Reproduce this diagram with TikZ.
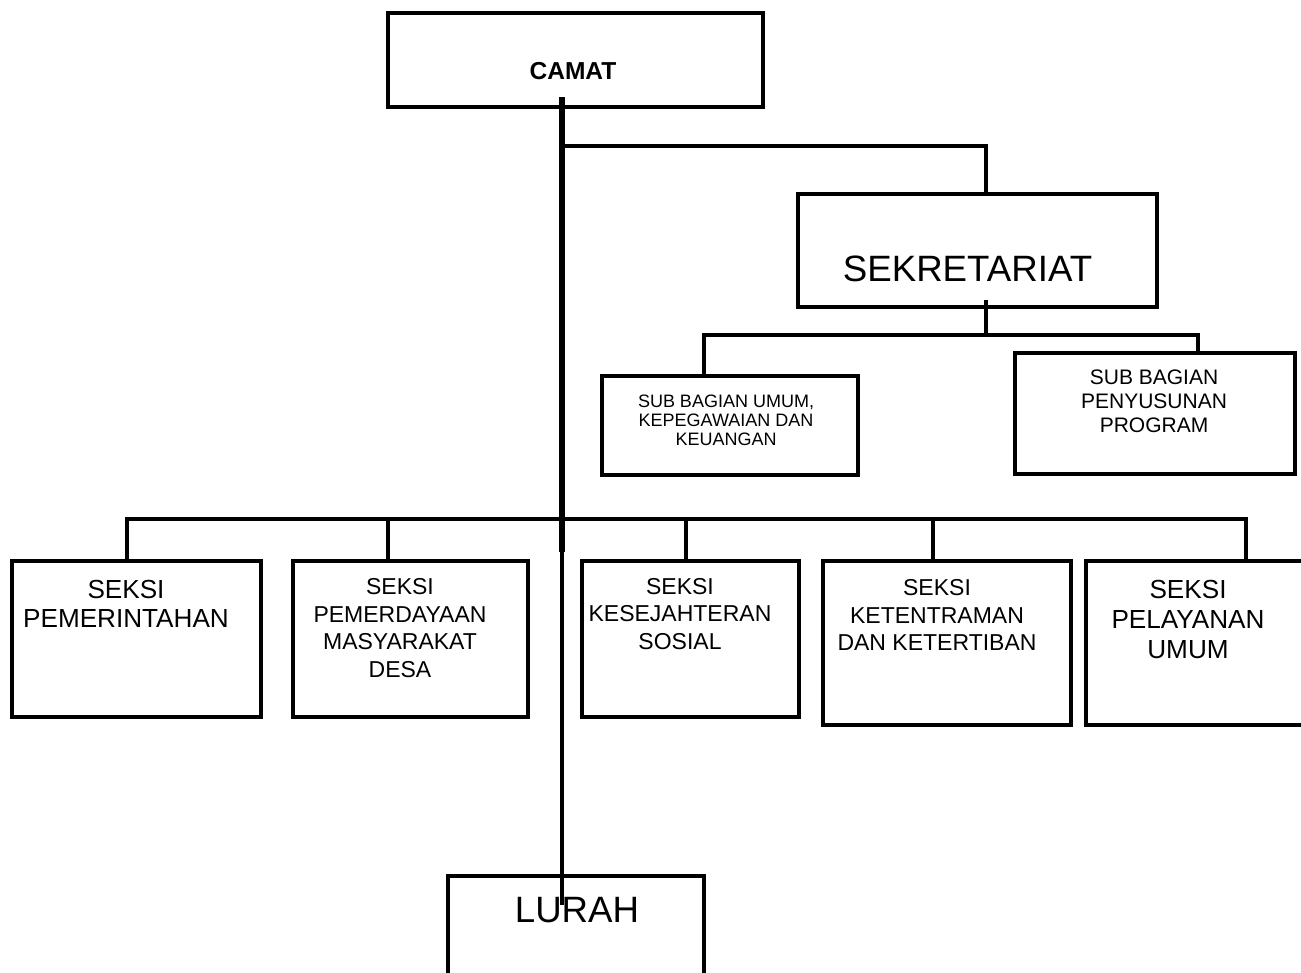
\documentclass[tikz,border=0pt]{standalone}
\usepackage{fontspec}
\setmainfont{Liberation Sans}
\usetikzlibrary{calc}

\begin{document}
\begin{tikzpicture}[x=0.75pt,y=-0.75pt,
  box/.style 2 args={draw,line width=2.8pt,inner sep=0pt,
    minimum width=#1*0.75pt,minimum height=#2*0.75pt},
  wire/.style={line width=3.6pt},
  thinwire/.style={line width=2.3pt},
  txt/.style={align=center,inner sep=0pt},
  head/.style={txt,font=\fontsize{18.4}{22}\selectfont\bfseries},
  big/.style={txt,font=\fontsize{27.5}{33}\selectfont},
  subsmall/.style={txt,font=\fontsize{13.5}{14.25}\selectfont},
  sub/.style={txt,font=\fontsize{15.75}{18}\selectfont},
  seksi/.style={txt,font=\fontsize{17.25}{20.6}\selectfont},
  seksibig/.style={txt,font=\fontsize{19.6}{22.5}\selectfont}]
\useasboundingbox (0,0) rectangle (1301,972);

% boxes
\node[box={375}{94}] (camat) at (575.5,60) {};
\node[box={359}{113}] (sekre) at (977.5,250.5) {};
\node[box={256}{99}] (subumum) at (730,425.5) {};
\node[box={280}{121}] (subprog) at (1155,413.5) {};
\node[box={249}{156}] (seksiA) at (136.5,639) {};
\node[box={235}{156}] (seksiB) at (410.5,639) {};
\node[box={217}{156}] (seksiC) at (690.5,639) {};
\node[box={248}{164}] (seksiD) at (947,643) {};
\node[box={224}{164}] (seksiE) at (1198,643) {};
\node[box={256}{124}] (lurah) at (576,938) {};

% texts
\node[head] (camat-t) at (573,71.5) {CAMAT};
\node[big] (sekre-t) at (967.5,269) {SEKRETARIAT};
\node[subsmall] (subumum-t) at (726,420.5) {SUB BAGIAN UMUM,\\KEPEGAWAIAN DAN\\KEUANGAN};
\node[sub] (subprog-t) at (1154,401.5) {SUB BAGIAN\\PENYUSUNAN\\PROGRAM};
\node[seksibig,font=\fontsize{19.6}{21.5}\selectfont] (seksiA-t) at (126,604) {SEKSI\\PEMERINTAHAN};
\node[seksi] (seksiB-t) at (400,628) {SEKSI\\PEMERDAYAAN\\MASYARAKAT\\DESA};
\node[seksi] (seksiC-t) at (680,614) {SEKSI\\KESEJAHTERAN\\SOSIAL};
\node[seksi] (seksiD-t) at (937,615) {SEKSI\\KETENTRAMAN\\DAN KETERTIBAN};
\node[seksibig] (seksiE-t) at (1188,619) {SEKSI\\PELAYANAN\\UMUM};
\node[big] (lurah-t) at (577,910) {LURAH};

% trunk
\coordinate (top) at (562,97);
\coordinate (jSek) at (562,146);
\coordinate (jSeksi) at (562,519);
\coordinate (mid) at (562,552);
\coordinate (bot) at (562,905);
\coordinate (jSub) at (986,335);
\draw[wire,line width=3.9pt] (top) -- (mid);
\draw[thinwire] (mid) -- (bot);

% branches
\draw[wire] ($(sekre.north)+(8.5,0)$) |- (jSek);
\draw[wire] ($(sekre.south)+(8.5,-9)$) -- (jSub);
\draw[wire] ($(subumum.north)+(-26,0)$) |- (jSub);
\draw[wire] ($(subprog.north)+(43,0)$) |- (jSub);
\foreach \n/\dx in {seksiA/-9.5,seksiB/-22.5,seksiC/-4.5,seksiD/-14,seksiE/48}
  \draw[wire] ($(\n.north)+(\dx,0)$) |- (jSeksi);
\end{tikzpicture}
\end{document}
